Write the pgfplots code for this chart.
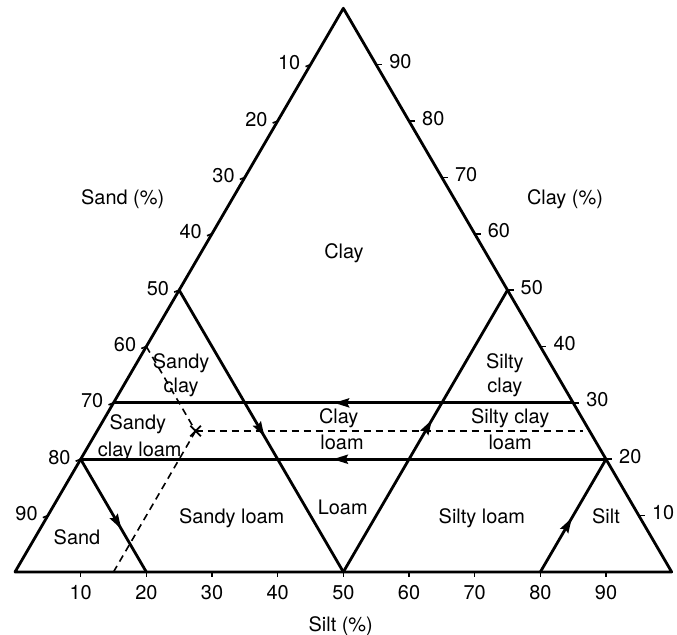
\documentclass[border=0pt]{standalone}
\usepackage{pgfplots}
\pgfplotsset{compat=1.18}
\usepackage{fontspec}
\setmainfont{TeX Gyre Heros}
\usetikzlibrary{decorations.markings,arrows.meta}
\begin{document}
\fontsize{20}{24}\selectfont
\begin{tikzpicture}[
  lbl/.style={inner sep=0pt, text height=14bp, text depth=0pt, font=\fontsize{20}{24}\selectfont},
  tk/.style={line width=1.6bp, black},
]
\begin{axis}[scale only axis, width=677bp, height=635bp,
  xmin=-2.284, xmax=100.81, ymin=-11.18, ymax=101.47,
  hide axis, clip=false,
  ln/.style={line width=2.8bp, black, line join=round, line cap=round, mark=none},
  midarrow/.style={ln, postaction={decorate}, decoration={markings, mark=at position #1 with {\arrow{Stealth[length=15bp,width=9bp,inset=2bp]}}}},
  dsh/.style={black, mark=none, line width=1.6bp, dash pattern=on 7bp off 5bp, line cap=butt},
]
% triangle outline
\addplot[ln] coordinates {(0,0) (100,0) (50,100) (0,0)};
% class boundaries
\addplot[midarrow=0.52] coordinates {(25,50) (50,0)};
\addplot[midarrow=0.54] coordinates {(50,0) (75,50)};
\addplot[midarrow=0.52] coordinates {(85,30) (15,30)};
\addplot[midarrow=0.52] coordinates {(90,20) (10,20)};
\addplot[midarrow=0.62] coordinates {(10,20) (20,0)};
\addplot[midarrow=0.48] coordinates {(80,0) (90,20)};
% example point (sand 60, silt 15, clay 25)
\addplot[dsh] coordinates {(20,40) (27.5,25)};
\addplot[dsh] coordinates {(15,0) (27.5,25)};
\addplot[dsh] coordinates {(27.5,25) (86.5,25)};
\addplot[black, only marks, mark=x, mark size=7.5bp, mark options={solid, line width=1.8bp}] coordinates {(27.5,25)};

% ticks: left (sand)
\draw[tk] (axis cs:45,90) -- ++(-5bp,-2bp);
\draw[tk] (axis cs:40,80) -- ++(-5bp,-2bp);
\draw[tk] (axis cs:35,70) -- ++(-5bp,-2bp);
\draw[tk] (axis cs:30,60) -- ++(-5bp,-2bp);
\draw[tk] (axis cs:25,50) -- ++(-5bp,-2bp);
\draw[tk] (axis cs:20,40) -- ++(-5bp,-2bp);
\draw[tk] (axis cs:15,30) -- ++(-5bp,-2bp);
\draw[tk] (axis cs:10,20) -- ++(-5bp,-2bp);
\draw[tk] (axis cs:5,10) -- ++(-5bp,-2bp);
% ticks: right (clay)
\draw[tk] (axis cs:55,90) -- ++(6bp,0bp);
\draw[tk] (axis cs:60,80) -- ++(6bp,0bp);
\draw[tk] (axis cs:65,70) -- ++(6bp,0bp);
\draw[tk] (axis cs:70,60) -- ++(6bp,0bp);
\draw[tk] (axis cs:75,50) -- ++(6bp,0bp);
\draw[tk] (axis cs:80,40) -- ++(6bp,0bp);
\draw[tk] (axis cs:85,30) -- ++(6bp,0bp);
\draw[tk] (axis cs:90,20) -- ++(6bp,0bp);
\draw[tk] (axis cs:95,10) -- ++(6bp,0bp);
% ticks: bottom (silt)
\draw[tk] (axis cs:10,0) -- ++(0bp,-5bp);
\draw[tk] (axis cs:20,0) -- ++(0bp,-5bp);
\draw[tk] (axis cs:30,0) -- ++(0bp,-5bp);
\draw[tk] (axis cs:40,0) -- ++(0bp,-5bp);
\draw[tk] (axis cs:50,0) -- ++(0bp,-5bp);
\draw[tk] (axis cs:60,0) -- ++(0bp,-5bp);
\draw[tk] (axis cs:70,0) -- ++(0bp,-5bp);
\draw[tk] (axis cs:80,0) -- ++(0bp,-5bp);
\draw[tk] (axis cs:90,0) -- ++(0bp,-5bp);

% tick labels left
\node[lbl, anchor=east, xshift=-10bp, yshift=2bp] at (axis cs:45,90) {10};
\node[lbl, anchor=east, xshift=-10bp, yshift=2bp] at (axis cs:40,80) {20};
\node[lbl, anchor=east, xshift=-10bp, yshift=2bp] at (axis cs:35,70) {30};
\node[lbl, anchor=east, xshift=-10bp, yshift=2bp] at (axis cs:30,60) {40};
\node[lbl, anchor=east, xshift=-10bp, yshift=2bp] at (axis cs:25,50) {50};
\node[lbl, anchor=east, xshift=-10bp, yshift=2bp] at (axis cs:20,40) {60};
\node[lbl, anchor=east, xshift=-10bp, yshift=2bp] at (axis cs:15,30) {70};
\node[lbl, anchor=east, xshift=-10bp, yshift=2bp] at (axis cs:10,20) {80};
\node[lbl, anchor=east, xshift=-10bp, yshift=2bp] at (axis cs:5,10) {90};
% tick labels right
\node[lbl, anchor=west, xshift=13bp, yshift=3bp] at (axis cs:55,90) {90};
\node[lbl, anchor=west, xshift=13bp, yshift=3bp] at (axis cs:60,80) {80};
\node[lbl, anchor=west, xshift=13bp, yshift=3bp] at (axis cs:65,70) {70};
\node[lbl, anchor=west, xshift=13bp, yshift=3bp] at (axis cs:70,60) {60};
\node[lbl, anchor=west, xshift=13bp, yshift=3bp] at (axis cs:75,50) {50};
\node[lbl, anchor=west, xshift=13bp, yshift=3bp] at (axis cs:80,40) {40};
\node[lbl, anchor=west, xshift=13bp, yshift=3bp] at (axis cs:85,30) {30};
\node[lbl, anchor=west, xshift=13bp, yshift=3bp] at (axis cs:90,20) {20};
\node[lbl, anchor=west, xshift=13bp, yshift=3bp] at (axis cs:95,10) {10};
% tick labels bottom
\node[lbl, yshift=-21bp] at (axis cs:10,0) {10};
\node[lbl, yshift=-21bp] at (axis cs:20,0) {20};
\node[lbl, yshift=-21bp] at (axis cs:30,0) {30};
\node[lbl, yshift=-21bp] at (axis cs:40,0) {40};
\node[lbl, yshift=-21bp] at (axis cs:50,0) {50};
\node[lbl, yshift=-21bp] at (axis cs:60,0) {60};
\node[lbl, yshift=-21bp] at (axis cs:70,0) {70};
\node[lbl, yshift=-21bp] at (axis cs:80,0) {80};
\node[lbl, yshift=-21bp] at (axis cs:90,0) {90};

% axis titles
\node[lbl] at (axis cs:16.4,66.5) {Sand (\%)};
\node[lbl] at (axis cs:83.75,66.5) {Clay (\%)};
\node[lbl] at (axis cs:49.6,-9.4) {Silt (\%)};

% region names
\node[lbl] at (axis cs:50.1,56.8) {Clay};
\node[lbl] at (axis cs:25.3,37.3) {Sandy};
\node[lbl] at (axis cs:25.3,33.1) {clay};
\node[lbl] at (axis cs:74.6,37.3) {Silty};
\node[lbl] at (axis cs:74.6,33.1) {clay};
\node[lbl] at (axis cs:18.7,26.6) {Sandy};
\node[lbl] at (axis cs:19.0,21.8) {clay loam};
\node[lbl] at (axis cs:49.3,27.5) {Clay};
\node[lbl] at (axis cs:49.8,22.9) {loam};
\node[lbl] at (axis cs:75.4,27.5) {Silty clay};
\node[lbl] at (axis cs:75.4,22.9) {loam};
\node[lbl] at (axis cs:9.44,6.03) {Sand};
\node[lbl] at (axis cs:33.0,9.76) {Sandy loam};
\node[lbl] at (axis cs:49.9,11.35) {Loam};
\node[lbl] at (axis cs:71.1,9.76) {Silty loam};
\node[lbl] at (axis cs:90.0,9.93) {Silt};
\end{axis}
\pgfresetboundingbox
\path (current axis.south west) rectangle (current axis.north east);
\end{tikzpicture}
\end{document}
